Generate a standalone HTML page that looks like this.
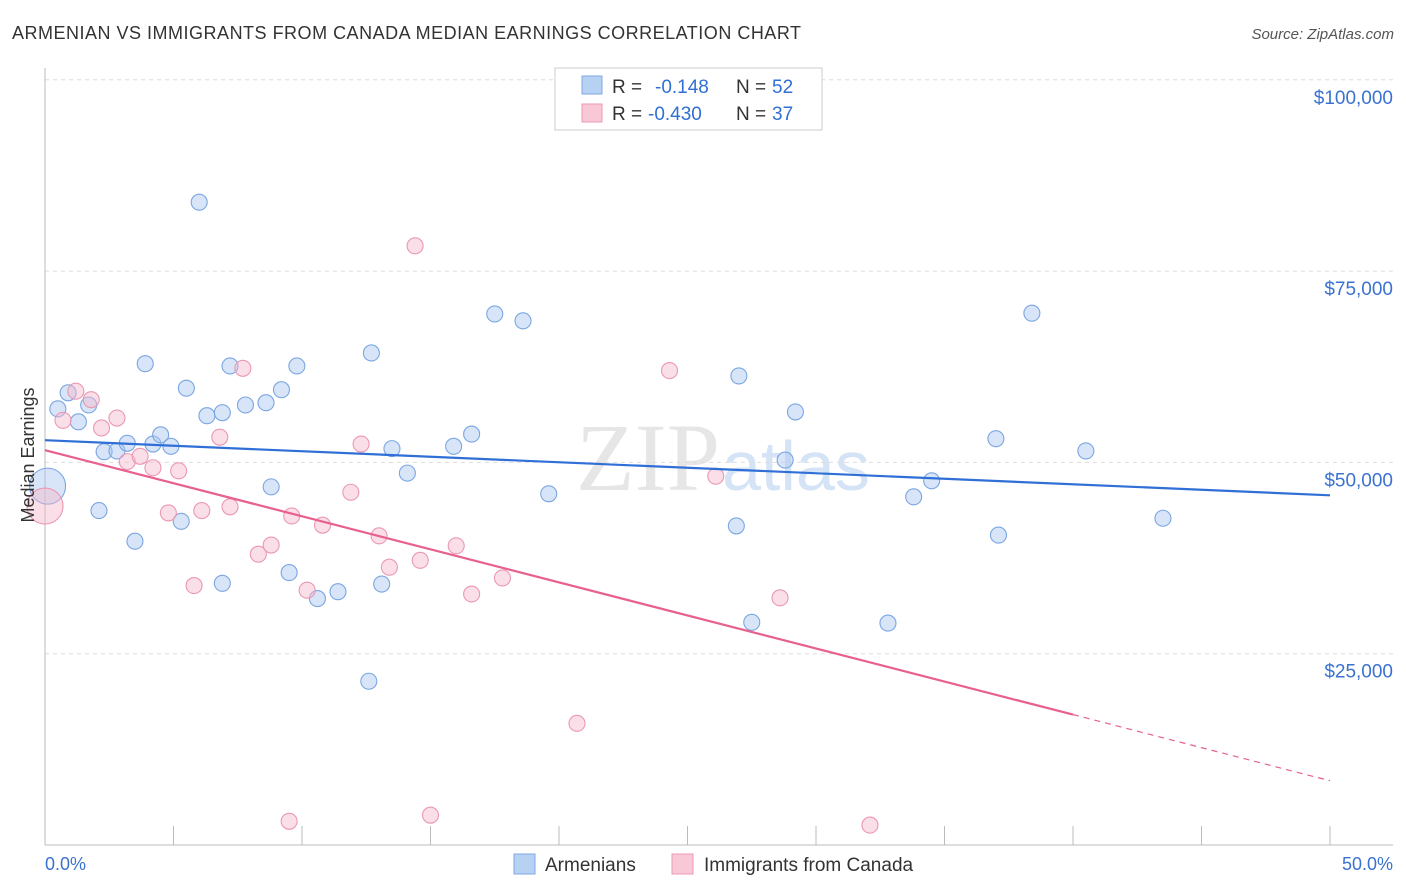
<!DOCTYPE html>
<html><head><meta charset="utf-8"><style>
body{margin:0;background:#fff;font-family:"Liberation Sans",sans-serif;}
svg{display:block}
</style></head><body>
<svg width="1406" height="892" xmlns="http://www.w3.org/2000/svg">
<text x="12" y="39" font-size="18" fill="#333" textLength="789">ARMENIAN VS IMMIGRANTS FROM CANADA MEDIAN EARNINGS CORRELATION CHART</text>
<text x="1394" y="39" font-size="15" fill="#555" font-style="italic" text-anchor="end">Source: ZipAtlas.com</text>
<text x="720" y="490" font-size="96" fill="#e6e6e6" font-family="Liberation Serif" text-anchor="end">ZIP</text>
<text x="722" y="490" font-size="70" fill="#d4e3f5">atlas</text>
<g id="grid"></g><g id="axes"></g><g id="pts"></g><g id="trend"></g>
<text x="34" y="455" font-size="18" fill="#333" transform="rotate(-90 34 455)" text-anchor="middle">Median Earnings</text>
<text x="45" y="870" font-size="18" fill="#3a72d0">0.0%</text>
<text x="1393" y="870" font-size="18" fill="#3a72d0" text-anchor="end">50.0%</text>
<g>
<rect x="555" y="68" width="267" height="62" fill="#fff" stroke="#ccc"/>
<rect x="582" y="76" width="20" height="18" fill="#b7d1f3" stroke="#7fa8e2"/>
<text x="612" y="93" font-size="19" fill="#333">R =</text>
<text x="655" y="93" font-size="19" fill="#2f6fd6">-0.148</text>
<text x="736" y="93" font-size="19" fill="#333">N =</text>
<text x="772" y="93" font-size="19" fill="#2f6fd6">52</text>
<rect x="582" y="104" width="20" height="18" fill="#f9c8d6" stroke="#ec9ab4"/>
<text x="612" y="120" font-size="19" fill="#333">R =</text>
<text x="648" y="120" font-size="19" fill="#2f6fd6">-0.430</text>
<text x="736" y="120" font-size="19" fill="#333">N =</text>
<text x="772" y="120" font-size="19" fill="#2f6fd6">37</text>
</g>
<g><rect x="514" y="854" width="21" height="20" fill="#b7d1f3" stroke="#7fa8e2"/><text x="545" y="871" font-size="19" fill="#333">Armenians</text></g>
<g><rect x="672" y="854" width="21" height="20" fill="#f9c8d6" stroke="#ec9ab4"/><text x="704" y="871" font-size="19" fill="#333">Immigrants from Canada</text></g>
</svg>
<script>
const yTicks=[25000,50000,75000,100000];
const yTickLabels=["$25,000","$50,000","$75,000","$100,000"];
const xTicks=[0,5,10,15,20,25,30,35,40,45,50];
const blueX=[0.1,0.5,0.9,1.3,1.7,2.1,2.3,2.8,3.2,3.5,3.9,4.2,4.5,4.9,5.3,5.5,6.0,6.3,6.9,6.9,7.2,7.8,8.6,8.8,9.2,9.5,9.8,10.6,11.4,12.6,12.7,13.1,13.5,14.1,15.9,16.6,17.5,18.6,19.6,26.9,27.0,27.5,28.8,29.2,32.8,33.8,34.5,37.0,37.1,38.4,40.5,43.5];
const blueY=[46900,57000,59100,55300,57500,43700,51400,51500,52500,39700,62900,52400,53600,52100,42300,59700,84000,56100,56500,34200,62600,57500,57800,46800,59500,35600,62600,32200,33100,21400,64300,34100,51800,48600,52100,53700,69400,68500,45900,41700,61300,29100,50300,56600,29000,45500,47600,53100,40500,69500,51500,42700];
const pinkX=[0,0.7,1.2,1.8,2.2,2.8,3.2,3.7,4.2,4.8,5.2,5.8,6.1,6.8,7.2,7.7,8.3,8.8,9.6,10.2,10.8,11.9,12.3,13.0,13.4,14.4,14.6,15.0,16.0,16.6,17.8,20.7,24.3,26.1,28.6,32.1,9.5];
const pinkY=[44300,55500,59300,58200,54500,55800,50100,50800,49300,43400,48900,33900,43700,53300,44200,62300,38000,39200,43000,33300,41800,46100,52400,40400,36300,78300,37200,3900,39100,32800,34900,15900,62000,48200,32300,2600,3100];
const blueTrend=[52900,45700];
const pinkTrend=[51600,8400];
const pinkSolidEnd=40;
const NS="http://www.w3.org/2000/svg";
const X=v=>45+v/50*1285, Y=v=>845-v/25000*191.3;
function mk(t,a,p){const e=document.createElementNS(NS,t);for(const k in a)e.setAttribute(k,a[k]);document.getElementById(p).appendChild(e);return e;}
yTicks.forEach((t,i)=>{
 const l=mk('line',{x1:45,x2:1393,y1:Y(t),y2:Y(t),stroke:'#ddd','stroke-dasharray':'4,4'},'grid');
 
 
 const tx=mk('text',{x:1393,y:Y(t)+24,'font-size':19,fill:'#3a72d0','text-anchor':'end'},'grid');tx.textContent=yTickLabels[i];
 
 
});
const ax=mk('line',{x1:45,x2:45,y1:68,y2:845,stroke:'#bbb'},'axes');


const bx=mk('line',{x1:45,x2:1393,y1:845,y2:845,stroke:'#bbb'},'axes');


xTicks.forEach(t=>{const l=mk('line',{x1:X(t),x2:X(t),y1:826,y2:845,stroke:'#bbb'},'axes');
 
 });
function pts(xs,ys,fill,stroke,name){xs.forEach((x,i)=>{
 const c=mk('circle',{cx:X(x),cy:Y(ys[i]),r:i==0?18:8,fill:fill,'fill-opacity':0.45,stroke:stroke,'stroke-width':1.1},'pts');
 
 });}
pts(blueX,blueY,'#a9c6ef','#7aa6e2','armenian-point');
pts(pinkX,pinkY,'#f6b9cb','#eb98b2','immigrant-point');
const bl=mk('line',{x1:X(0),y1:Y(blueTrend[0]),x2:X(50),y2:Y(blueTrend[1]),stroke:'#2f6fd6','stroke-width':2.2},'trend');


const pm=pinkTrend[0]+(pinkTrend[1]-pinkTrend[0])*pinkSolidEnd/50;
const pl=mk('line',{x1:X(0),y1:Y(pinkTrend[0]),x2:X(pinkSolidEnd),y2:Y(pm),stroke:'#e8608c','stroke-width':2.2},'trend');


const pd=mk('line',{x1:X(pinkSolidEnd),y1:Y(pm),x2:X(50),y2:Y(pinkTrend[1]),stroke:'#e8608c','stroke-width':1.2,'stroke-dasharray':'6,5'},'trend');


</script>
</body></html>
